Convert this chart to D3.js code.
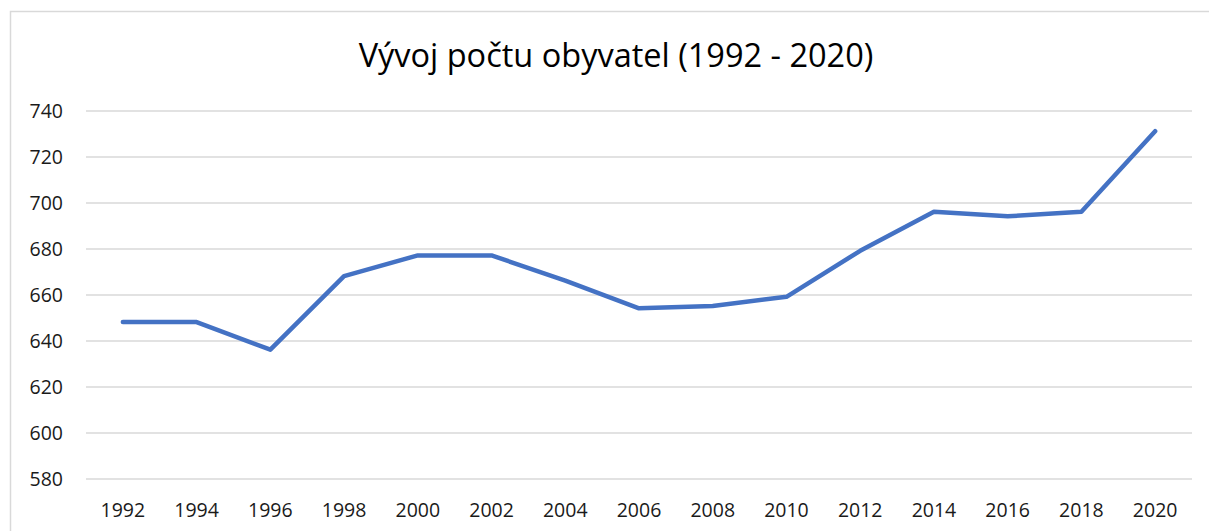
<!DOCTYPE html>
<html>
<head>
<meta charset="utf-8">
<script src="https://cdn.jsdelivr.net/npm/d3@7"></script>
<style>
  body { margin: 0; background: #fff; }
  text { font-family: "Open Sans", "Noto Sans", sans-serif; }
</style>
</head>
<body>
<svg width="1209" height="531"></svg>
<script>
const years = ['1992', '1994', '1996', '1998', '2000', '2002', '2004', '2006',
  '2008', '2010', '2012', '2014', '2016', '2018', '2020'];
const population = [648, 648, 636, 668, 677, 677, 666, 654, 655, 659, 679, 696, 694, 696, 731];
const yTicks = [580, 600, 620, 640, 660, 680, 700, 720, 740];
const title = 'Vývoj počtu obyvatel (1992 - 2020)';

const svg = d3.select('svg');
const width = +svg.attr('width');
const height = +svg.attr('height');
const margin = { top: 110.5, right: 17, bottom: 52.5, left: 86 };
const innerWidth = width - margin.left - margin.right;
const innerHeight = height - margin.top - margin.bottom;

// chart frame: only top and left edges are visible, the rest runs off the picture
svg.append('path')
  .attr('d', `M10.5,${height}V11.5H${width}`)
  .attr('fill', 'none')
  .attr('stroke', '#d9d9d9')
  .attr('stroke-width', 1.5);

svg.append('text')
  .attr('x', 616)
  .attr('y', 67)
  .attr('text-anchor', 'middle')
  .attr('font-size', 32.5)
  .attr('fill', '#000')
  .text(title);

const xScale = d3.scaleBand()
  .domain(years)
  .range([0, innerWidth]);

const yScale = d3.scaleLinear()
  .domain([580, 740])
  .range([innerHeight, 0]);

const g = svg.append('g')
  .attr('transform', `translate(${margin.left},${margin.top})`);

const yAxis = d3.axisLeft(yScale)
  .tickValues(yTicks)
  .tickSize(-innerWidth)
  .tickPadding(23);

const yAxisG = g.append('g').call(yAxis);
yAxisG.select('.domain').remove();
yAxisG.selectAll('line').attr('stroke', '#d9d9d9').attr('stroke-width', 1.5);
yAxisG.selectAll('text')
  .attr('font-size', 19.5)
  .attr('fill', '#1a1a1a')
  .attr('dy', '0.36em');

const xAxis = d3.axisBottom(xScale)
  .tickSize(0)
  .tickPadding(25);

const xAxisG = g.append('g')
  .attr('transform', `translate(0,${innerHeight})`)
  .call(xAxis);
xAxisG.select('.domain').remove();
xAxisG.selectAll('text')
  .attr('font-size', 19.5)
  .attr('fill', '#1a1a1a');

const line = d3.line()
  .x((d, i) => xScale(years[i]) + xScale.bandwidth() / 2)
  .y(d => yScale(d));

g.append('path')
  .datum(population)
  .attr('d', line)
  .attr('fill', 'none')
  .attr('stroke', '#4472c4')
  .attr('stroke-width', 4.5)
  .attr('stroke-linejoin', 'round')
  .attr('stroke-linecap', 'round');
</script>
</body>
</html>
